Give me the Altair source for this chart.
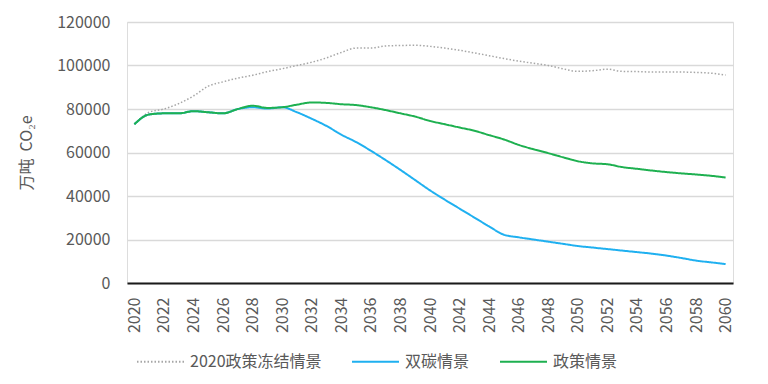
import altair as alt
import pandas as pd

years = list(range(2020, 2061))

freeze = [73000, 78500, 80000, 82500, 86000, 90500, 92500, 94200, 95500, 97200,
          98500, 100000, 101500, 103500, 106000, 108000, 108000, 109000, 109200, 109300,
          108800, 108000, 107000, 105800, 104500, 103200, 102000, 101000, 100000, 98500,
          97300, 97600, 98300, 97300, 97200, 97000, 97000, 97000, 96800, 96500,
          95600]

dual = [73000, 77500, 78000, 78000, 79000, 78500, 78000, 80000, 80800, 80200,
        80800, 78500, 75500, 72200, 68200, 64800, 60800, 56500, 52000, 47300,
        42600, 38300, 34200, 30100, 26000, 22200, 21000, 20000, 19000, 18000,
        17000, 16300, 15600, 14900, 14200, 13500, 12600, 11500, 10300, 9500,
        8700]

policy = [73000, 77500, 78000, 78000, 79000, 78500, 78000, 80000, 81500, 80500,
          80800, 82000, 83000, 82800, 82200, 81800, 80800, 79500, 78000, 76500,
          74500, 73000, 71500, 70000, 68000, 66000, 63500, 61500, 59700, 57800,
          56000, 55000, 54600, 53300, 52500, 51700, 51000, 50400, 49900, 49300,
          48500]

series_names = ["2020政策冻结情景", "双碳情景", "政策情景"]
series_colors = ["#a6a6a6", "#1fb0f0", "#1eb050"]
series_dash = [[1.5, 2], [1, 0], [1, 0]]

y_ticks = [0, 20000, 40000, 60000, 80000, 100000, 120000]
x_ticks = list(range(2020, 2061, 2))

rows = []
for name, vals in zip(series_names, [freeze, dual, policy]):
    for yr, v in zip(years, vals):
        rows.append({"year": yr, "value": v, "series": name})
df = pd.DataFrame(rows)

FONT = "Noto Sans CJK SC"
GRAY = "#595959"

legend_opts = dict(title=None, orient="none", legendX=9, legendY=315,
                   direction="horizontal", symbolType="stroke",
                   symbolSize=2209, symbolStrokeWidth=2,
                   labelFont=FONT, labelFontSize=16, labelColor=GRAY,
                   labelOffset=5, columnPadding=26)

color = alt.Color("series:N",
                  scale=alt.Scale(domain=series_names, range=series_colors),
                  legend=alt.Legend(**legend_opts))
dash = alt.StrokeDash("series:N",
                      scale=alt.Scale(domain=series_names, range=series_dash),
                      legend=alt.Legend(**legend_opts))

x = alt.X("year:Q",
          scale=alt.Scale(domain=[2019.5, 2060.5], nice=False, zero=False),
          axis=alt.Axis(values=x_ticks, format="d", title=None, grid=False, ticks=False,
                        domain=True, domainColor="#1a1a1a", domainWidth=2,
                        labelAngle=270, labelAlign="right", labelBaseline="middle",
                        labelPadding=14, labelFont=FONT, labelFontSize=16,
                        labelColor=GRAY, labelOverlap=False, labelFlush=False))
y = alt.Y("value:Q",
          scale=alt.Scale(domain=[0, 120000], nice=False),
          axis=alt.Axis(values=y_ticks, format="d", title="万吨\u00a0\u00a0CO₂e", grid=True,
                        gridColor="#d9d9d9", gridWidth=1.5, ticks=False, domain=False,
                        labelPadding=17, labelFont=FONT, labelFontSize=16, labelColor=GRAY,
                        titleFont=FONT, titleFontSize=16, titleFontWeight="normal",
                        titleColor=GRAY, titlePadding=22))

base = alt.Chart(df).encode(x=x, y=y, color=color, strokeDash=dash)

layers = []
for name, w in zip(series_names, [1.5, 2, 2]):
    layers.append(base.transform_filter(alt.datum.series == name)
                  .mark_line(strokeWidth=w, interpolate="monotone"))

chart = alt.layer(*layers).properties(
    width=606, height=261,
    autosize=alt.AutoSizeParams(type="none"),
    padding={"left": 119, "top": 14, "right": 27, "bottom": 93},
).configure_view(stroke=None).configure(background="white")

chart.save("out.html", embed_options={"renderer": "svg", "actions": False})
